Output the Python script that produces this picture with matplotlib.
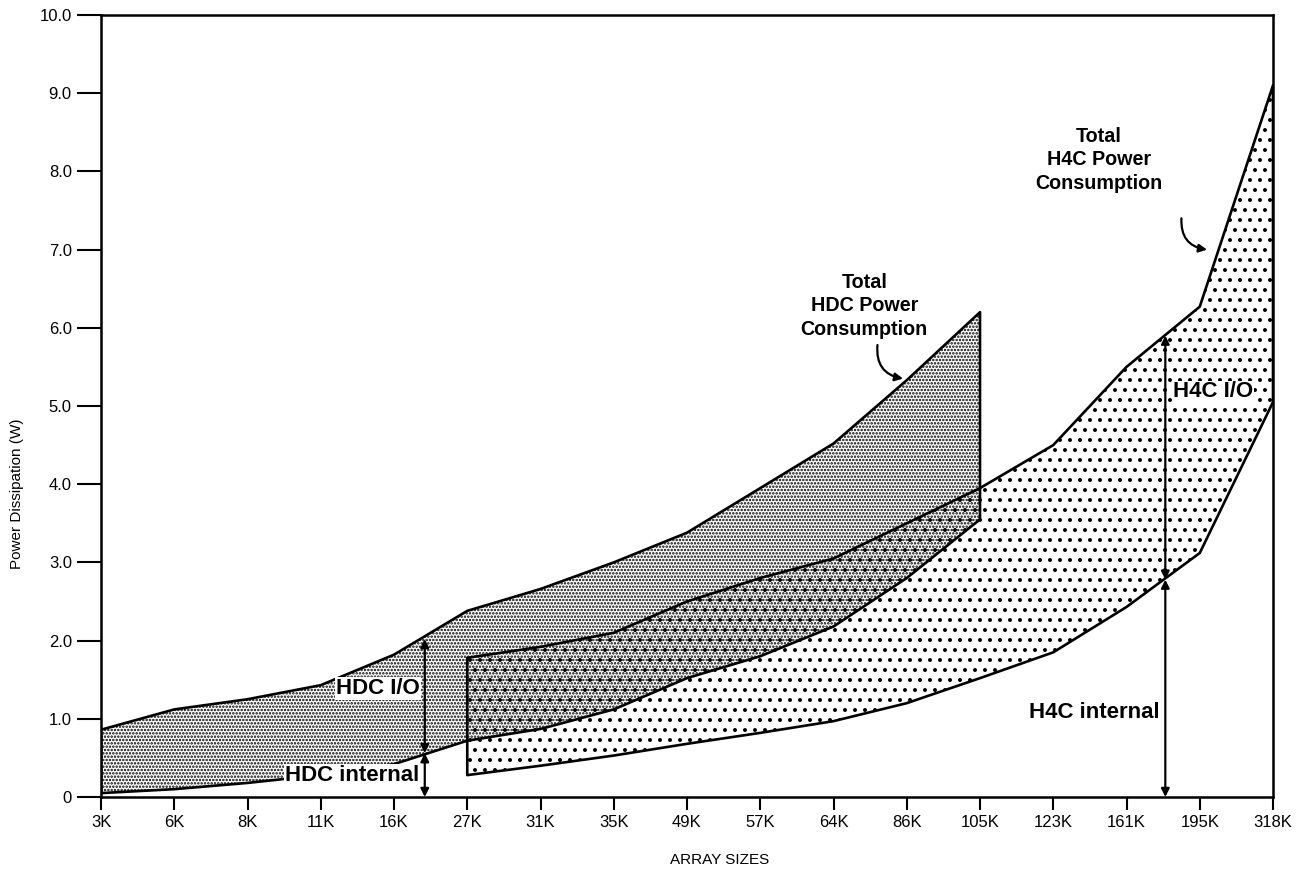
import matplotlib
matplotlib.use('Agg')
import matplotlib.pyplot as plt
import numpy as np

# array size categories on the x axis
sizes = ['3K', '6K', '8K', '11K', '16K', '27K', '31K', '35K', '49K',
         '57K', '64K', '86K', '105K', '123K', '161K', '195K', '318K']

# HDC band: 3K .. 105K
hdc_total = [0.86, 1.12, 1.25, 1.43, 1.82, 2.38, 2.66, 3.0, 3.38,
             3.95, 4.52, 5.33, 6.2]
hdc_internal = [0.05, 0.10, 0.18, 0.28, 0.42, 0.72, 0.87, 1.12, 1.52,
                1.80, 2.18, 2.80, 3.55]

# H4C band: 27K .. 318K
h4c_total = [1.78, 1.92, 2.10, 2.50, 2.80, 3.05, 3.50, 3.95, 4.50,
             5.50, 6.27, 9.10]
h4c_internal = [0.28, 0.40, 0.53, 0.68, 0.82, 0.97, 1.20, 1.52, 1.85,
                2.43, 3.12, 5.05]

yticks = [0, 1, 2, 3, 4, 5, 6, 7, 8, 9, 10]
ytick_labels = ['0', '1.0', '2.0', '3.0', '4.0', '5.0', '6.0', '7.0',
                '8.0', '9.0', '10.0']

plt.rcParams['font.family'] = ['Liberation Sans', 'DejaVu Sans']

# dpi 120 so the hatch cells come out at the right pixel spacing
DPI = 120
k = 100 / DPI
fig = plt.figure(figsize=(1310 / DPI, 879 / DPI), dpi=DPI)
ax = fig.add_axes([101/1310, 82/879, 1172/1310, 782/879])

x_hdc = np.arange(len(hdc_total))
x_h4c = np.arange(5, 5 + len(h4c_total))

# HDC region - fine stipple
plt.rcParams['hatch.linewidth'] = 1.0
hdc = ax.fill_between(x_hdc, hdc_internal, hdc_total, facecolor='white',
                      edgecolor='black', hatch='......', linewidth=1.9 * k,
                      zorder=2)
# H4C region - coarse dots, transparent so overlap shows both
plt.rcParams['hatch.linewidth'] = 1.15
h4c = ax.fill_between(x_h4c, h4c_internal, h4c_total, facecolor='none',
                      edgecolor='black', hatch='..', linewidth=1.9 * k,
                      zorder=3)
if hasattr(hdc, 'set_hatch_linewidth'):
    hdc.set_hatch_linewidth(1.0)
    h4c.set_hatch_linewidth(1.15)

# double-headed dimension arrows
arr = dict(arrowstyle='<|-|>', color='black', lw=1.6 * k,
           mutation_scale=12 * k, shrinkA=0, shrinkB=0)
hx = 4.42
ax.annotate('', xy=(hx, 0), xytext=(hx, 0.56), arrowprops=arr, zorder=5)
ax.annotate('', xy=(hx, 0.56), xytext=(hx, 2.02), arrowprops=arr, zorder=5)
gx = 14.53
ax.annotate('', xy=(gx, 0), xytext=(gx, 2.78), arrowprops=arr, zorder=5)
ax.annotate('', xy=(gx, 2.78), xytext=(gx, 5.9), arrowprops=arr, zorder=5)

lab = dict(fontsize=16 * k, fontweight='bold', zorder=6)
wbox = dict(facecolor='white', edgecolor='none', pad=0.5)
ax.text(4.35, 1.39, 'HDC I/O', ha='right', va='center', bbox=wbox, **lab)
ax.text(4.35, 0.27, 'HDC internal', ha='right', va='center', bbox=wbox,
        **lab)
ax.text(14.63, 5.18, 'H4C I/O', ha='left', va='center', bbox=wbox, **lab)
ax.text(14.45, 1.08, 'H4C internal', ha='right', va='center', **lab)

tot = dict(fontsize=14.2 * k, fontweight='bold', zorder=6)
ax.text(10.42, 6.28, 'Total\nHDC Power\nConsumption', ha='center',
        va='center', linespacing=1.3, **tot)
ax.text(13.62, 8.15, 'Total\nH4C Power\nConsumption', ha='center',
        va='center', linespacing=1.3, **tot)

curl = dict(arrowstyle='-|>', color='black', lw=1.6 * k,
            mutation_scale=12 * k, connectionstyle='arc3,rad=0.45',
            shrinkA=0, shrinkB=0)
ax.annotate('', xy=(10.95, 5.35), xytext=(10.6, 5.78), arrowprops=curl)
ax.annotate('', xy=(15.1, 7.0), xytext=(14.75, 7.4), arrowprops=curl)

ax.set_xlim(0, 16)
ax.set_ylim(0, 10)
ax.set_xticks(np.arange(len(sizes)))
ax.set_xticklabels(sizes)
ax.set_yticks(yticks)
ax.set_yticklabels(ytick_labels)
ax.tick_params(axis='x', direction='out', length=9 * k, width=1.5 * k,
               labelsize=12 * k, pad=4 * k)
ax.tick_params(axis='y', direction='out', length=17 * k, width=1.5 * k,
               labelsize=12 * k, pad=4 * k)
for s in ax.spines.values():
    s.set_linewidth(1.8 * k)

fig.text(17/1310, 1 - 494/879, 'Power Dissipation (W)', rotation=90,
         ha='center', va='center', fontsize=11 * k,
         family=['Liberation Sans Narrow', 'Liberation Sans'])
fig.text(720/1310, 1 - 860/879, 'ARRAY SIZES', ha='center', va='center',
         fontsize=11 * k)

fig.savefig('out.png', dpi=DPI)
